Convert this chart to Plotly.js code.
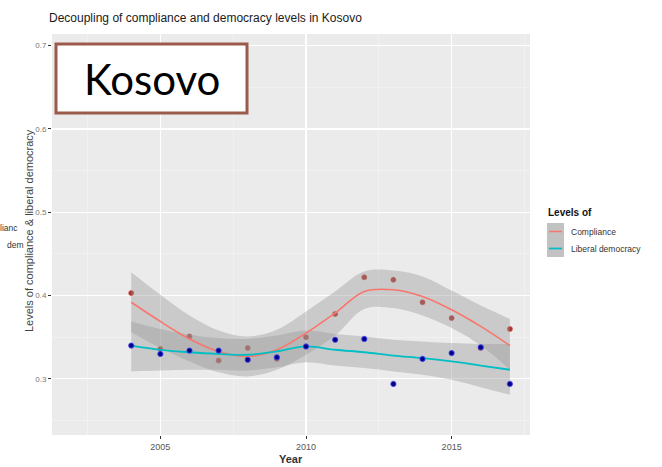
<!DOCTYPE html>
<html>
<head>
<meta charset="utf-8">
<script src="https://cdn.plot.ly/plotly-3.0.1.min.js"></script>
<style>html,body{margin:0;padding:0;background:#fff;}#chart{width:662px;height:467px;}</style>
</head>
<body>
<div id="chart"></div>
<script>
// ---- data ----
const years = [2004,2005,2006,2007,2008,2009,2010,2011,2012,2013,2014,2015,2016,2017];

const compliance = [0.403,0.336,0.351,0.322,0.337,0.324,0.350,0.378,0.422,0.419,0.392,0.373,0.337,0.360];
const liberalDemocracy = [0.340,0.330,0.334,0.334,0.323,0.326,0.339,0.347,0.348,0.294,0.324,0.331,0.338,0.294];

const complianceFit   = [0.392,0.369,0.348,0.333,0.327,0.335,0.355,0.379,0.405,0.407,0.399,0.383,0.363,0.340];
const complianceUpper = [0.428,0.401,0.376,0.358,0.351,0.359,0.381,0.405,0.429,0.430,0.423,0.406,0.388,0.372];
const complianceLower = [0.356,0.337,0.321,0.308,0.303,0.311,0.329,0.352,0.384,0.385,0.376,0.361,0.340,0.311];

const democracyFit   = [0.340,0.335,0.332,0.330,0.329,0.333,0.339,0.335,0.332,0.328,0.325,0.321,0.316,0.311];
const democracyUpper = [0.369,0.360,0.353,0.349,0.348,0.352,0.358,0.354,0.351,0.347,0.345,0.343,0.342,0.342];
const democracyLower = [0.309,0.310,0.311,0.311,0.310,0.314,0.320,0.316,0.313,0.309,0.305,0.299,0.290,0.281];

const seriesNames = ["Compliance","Liberal democracy"];
const legendTitle = "Levels of";
const chartTitle = "Decoupling of compliance and democracy levels in Kosovo";
const xTitle = "Year";
const yTitle = "Levels of compliance &amp; liberal democracy";
const overlayLabel = "Kosovo";

// ---- layout geometry (pixels) ----
const W = 662, H = 467;
const L = 52, R = 530, T = 34, B = 435;
const px = v => (v - L) / (R - L);
const py = v => (B - v) / (B - T);

const bandFill = 'rgba(153,153,153,0.4)';
const redLine = '#F8766D', tealLine = '#00BFC4';

const traces = [
  {x: years, y: compliance, mode: 'markers', type: 'scatter', showlegend: false,
   marker: {color: '#a8322c', size: 5, line: {color: 'rgba(205,70,60,0.7)', width: 1}}},
  {x: years, y: complianceLower, mode: 'lines', line: {width: 0, shape: 'spline'}, showlegend: false, hoverinfo: 'skip'},
  {x: years, y: complianceUpper, mode: 'lines', line: {width: 0, shape: 'spline'}, fill: 'tonexty', fillcolor: bandFill, showlegend: false, hoverinfo: 'skip'},
  {x: years, y: democracyLower, mode: 'lines', line: {width: 0, shape: 'spline'}, showlegend: false, hoverinfo: 'skip'},
  {x: years, y: democracyUpper, mode: 'lines', line: {width: 0, shape: 'spline'}, fill: 'tonexty', fillcolor: bandFill, showlegend: false, hoverinfo: 'skip'},
  {x: years, y: complianceFit, mode: 'lines', name: seriesNames[0], line: {color: redLine, width: 1.6, shape: 'spline'}, showlegend: false},
  {x: years, y: democracyFit, mode: 'lines', name: seriesNames[1], line: {color: tealLine, width: 1.8, shape: 'spline'}, showlegend: false},
  {x: years, y: liberalDemocracy, mode: 'markers', type: 'scatter', showlegend: false,
   marker: {color: '#000080', size: 5, line: {color: 'rgba(50,50,235,0.75)', width: 1.2}}}
];

const font = "Liberation Sans, Arial, sans-serif";

const layout = {
  width: W, height: H,
  margin: {l: L, r: W - R, t: T, b: H - B, pad: 0},
  paper_bgcolor: '#ffffff',
  plot_bgcolor: '#EBEBEB',
  showlegend: false,
  font: {family: font, color: '#4d4d4d'},
  xaxis: {
    range: [2001.28, 2017.69], tickmode: 'linear', tick0: 2005, dtick: 5,
    showgrid: true, gridcolor: '#ffffff', gridwidth: 1.1, zeroline: false, showline: false,
    ticks: 'outside', ticklen: 3, tickcolor: '#333333', tickwidth: 1,
    tickfont: {size: 9, color: '#555555'},
    minor: {tick0: 2002.5, dtick: 2.5, showgrid: true, gridcolor: '#f5f5f5', gridwidth: 0.6, ticks: ''}
  },
  yaxis: {
    range: [0.2327, 0.7140], tickmode: 'linear', tick0: 0.3, dtick: 0.1,
    showgrid: true, gridcolor: '#ffffff', gridwidth: 1.1, zeroline: false, showline: false,
    ticks: 'outside', ticklen: 3, tickcolor: '#333333', tickwidth: 1,
    tickfont: {size: 8, color: '#777777'}, tickformat: '.1f',
    minor: {tick0: 0.25, dtick: 0.05, showgrid: true, gridcolor: '#f5f5f5', gridwidth: 0.6, ticks: ''}
  },
  shapes: [
    // overlay label box
    {type: 'rect', xref: 'paper', yref: 'paper', x0: px(56), x1: px(247), y0: py(113), y1: py(44),
     fillcolor: '#ffffff', line: {color: '#9a5b4b', width: 3}, layer: 'above'},
    // legend key boxes
    {type: 'rect', xref: 'paper', yref: 'paper', x0: px(547), x1: px(564), y0: py(240), y1: py(223),
     fillcolor: '#c2c2c2', line: {width: 0}},
    {type: 'rect', xref: 'paper', yref: 'paper', x0: px(547), x1: px(564), y0: py(257), y1: py(240),
     fillcolor: '#c2c2c2', line: {width: 0}},
    {type: 'line', xref: 'paper', yref: 'paper', x0: px(549), x1: px(562), y0: py(231.5), y1: py(231.5),
     line: {color: redLine, width: 1.5}},
    {type: 'line', xref: 'paper', yref: 'paper', x0: px(549), x1: px(562), y0: py(248.5), y1: py(248.5),
     line: {color: tealLine, width: 1.8}}
  ],
  annotations: [
    {text: chartTitle, xref: 'paper', yref: 'paper', x: px(47), y: py(18), xanchor: 'left', yanchor: 'middle',
     showarrow: false, font: {size: 12, color: '#1a1a1a', family: font}},
    {text: overlayLabel, xref: 'paper', yref: 'paper', x: px(151.5), y: py(79), xanchor: 'center', yanchor: 'middle',
     showarrow: false, font: {family: 'Lato, Carlito, sans-serif', size: 42, color: '#000000'}},
    {text: '<b>' + xTitle + '</b>', xref: 'paper', yref: 'paper', x: px(291), y: py(459), xanchor: 'center', yanchor: 'middle',
     showarrow: false, font: {size: 11, color: '#333333', family: font}},
    {text: yTitle, xref: 'paper', yref: 'paper', x: px(29), y: py(231), xanchor: 'center', yanchor: 'middle', textangle: -90,
     showarrow: false, font: {size: 11, color: '#444444', family: font}},
    {text: '<b>' + legendTitle + '</b>', xref: 'paper', yref: 'paper', x: px(546), y: py(213), xanchor: 'left', yanchor: 'middle',
     showarrow: false, font: {size: 10, color: '#111111', family: font}},
    {text: seriesNames[0], xref: 'paper', yref: 'paper', x: px(569), y: py(232), xanchor: 'left', yanchor: 'middle',
     showarrow: false, font: {size: 8.5, color: '#333333', family: font}},
    {text: seriesNames[1], xref: 'paper', yref: 'paper', x: px(569), y: py(249), xanchor: 'left', yanchor: 'middle',
     showarrow: false, font: {size: 8.5, color: '#333333', family: font}},
    // clipped text remnants on the far left
    {text: 'lianc', xref: 'paper', yref: 'paper', x: px(20), y: py(228), xanchor: 'right', yanchor: 'middle',
     showarrow: false, font: {size: 8.5, color: '#333333', family: font}},
    {text: 'dem', xref: 'paper', yref: 'paper', x: px(5), y: py(245), xanchor: 'left', yanchor: 'middle',
     showarrow: false, font: {size: 8.5, color: '#333333', family: font}}
  ]
};

Plotly.newPlot('chart', traces, layout, {displayModeBar: false, staticPlot: true});
</script>
</body>
</html>
